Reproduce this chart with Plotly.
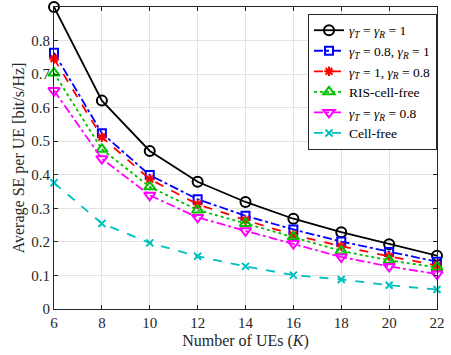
import plotly.graph_objects as go

K = [6, 8, 10, 12, 14, 16, 18, 20, 22]
se_ideal = [0.900, 0.621, 0.471, 0.379, 0.319, 0.269, 0.229, 0.193, 0.159]
se_t08 = [0.764, 0.524, 0.399, 0.327, 0.278, 0.237, 0.201, 0.170, 0.141]
se_r08 = [0.746, 0.512, 0.387, 0.312, 0.265, 0.221, 0.187, 0.157, 0.130]
se_ris = [0.703, 0.476, 0.364, 0.295, 0.255, 0.215, 0.173, 0.145, 0.124]
se_both08 = [0.651, 0.448, 0.339, 0.273, 0.233, 0.195, 0.155, 0.127, 0.104]
se_cf = [0.376, 0.255, 0.197, 0.157, 0.127, 0.101, 0.088, 0.071, 0.058]

names = [
    "<i>γ<sub>T</sub></i> = <i>γ<sub>R</sub></i> = 1",
    "<i>γ<sub>T</sub></i> = 0.8, <i>γ<sub>R</sub></i> = 1",
    "<i>γ<sub>T</sub></i> = 1, <i>γ<sub>R</sub></i> = 0.8",
    "RIS-cell-free",
    "<i>γ<sub>T</sub></i> = <i>γ<sub>R</sub></i> = 0.8",
    "Cell-free",
]
series = [se_ideal, se_t08, se_r08, se_ris, se_both08, se_cf]
colors = ["#000000", "#0000ff", "#ff0000", "#00c000", "#ff00ff", "#00bfbf"]
dashes = ["solid", "dashdot", "dash", "dot", "dashdot", "dash"]
symbols = ["circle-open", "square-open", "asterisk-open", "triangle-up-open",
           "triangle-down-open", "x-thin-open"]
msizes = [10, 8, 8, 10, 10, 7]

FAM = "Times New Roman, Liberation Serif, DejaVu Serif, serif"

fig = go.Figure()
for nm, ys, c, d, s, ms in zip(names, series, colors, dashes, symbols, msizes):
    fig.add_trace(go.Scatter(
        x=K, y=ys, name=nm, mode="lines+markers",
        line=dict(color=c, width=1.8, dash=d),
        marker=dict(symbol=s, size=ms, color=c, line=dict(color=c, width=2)),
        cliponaxis=False,
    ))

fig.update_layout(
    width=451, height=355,
    margin=dict(l=54, r=7, t=6, b=46),
    paper_bgcolor="white", plot_bgcolor="white",
    font=dict(family=FAM, size=15, color="#262626"),
    showlegend=True,
    legend=dict(
        x=1.0, xanchor="right", y=0.977, yanchor="top",
        bgcolor="white", bordercolor="#262626", borderwidth=1,
        font=dict(family=FAM, size=13.5, color="#000000"),
        tracegroupgap=0, itemwidth=30,
    ),
    xaxis=dict(
        range=[6, 22], tickvals=[6, 8, 10, 12, 14, 16, 18, 20, 22],
        showgrid=True, gridcolor="#e3e3e3", gridwidth=1,
        showline=True, linecolor="#262626", linewidth=1, mirror="ticks",
        ticks="inside", ticklen=4, tickcolor="#262626",
        tickfont=dict(family=FAM, size=15), ticklabeloverflow="allow",
        zeroline=False,
        title=dict(text="Number of UEs (<i>K</i>)", font=dict(family=FAM, size=16), standoff=4),
    ),
    yaxis=dict(
        range=[0, 0.9], tickvals=[0, 0.1, 0.2, 0.3, 0.4, 0.5, 0.6, 0.7, 0.8],
        ticktext=["0", "0.1", "0.2", "0.3", "0.4", "0.5", "0.6", "0.7", "0.8"],
        showgrid=True, gridcolor="#e3e3e3", gridwidth=1,
        showline=True, linecolor="#262626", linewidth=1, mirror="ticks",
        ticks="inside", ticklen=4, tickcolor="#262626",
        tickfont=dict(family=FAM, size=15),
        zeroline=False,
        title=dict(text="Average SE per UE [bit/s/Hz]", font=dict(family=FAM, size=16), standoff=2),
    ),
)

fig.write_html("out.html")
